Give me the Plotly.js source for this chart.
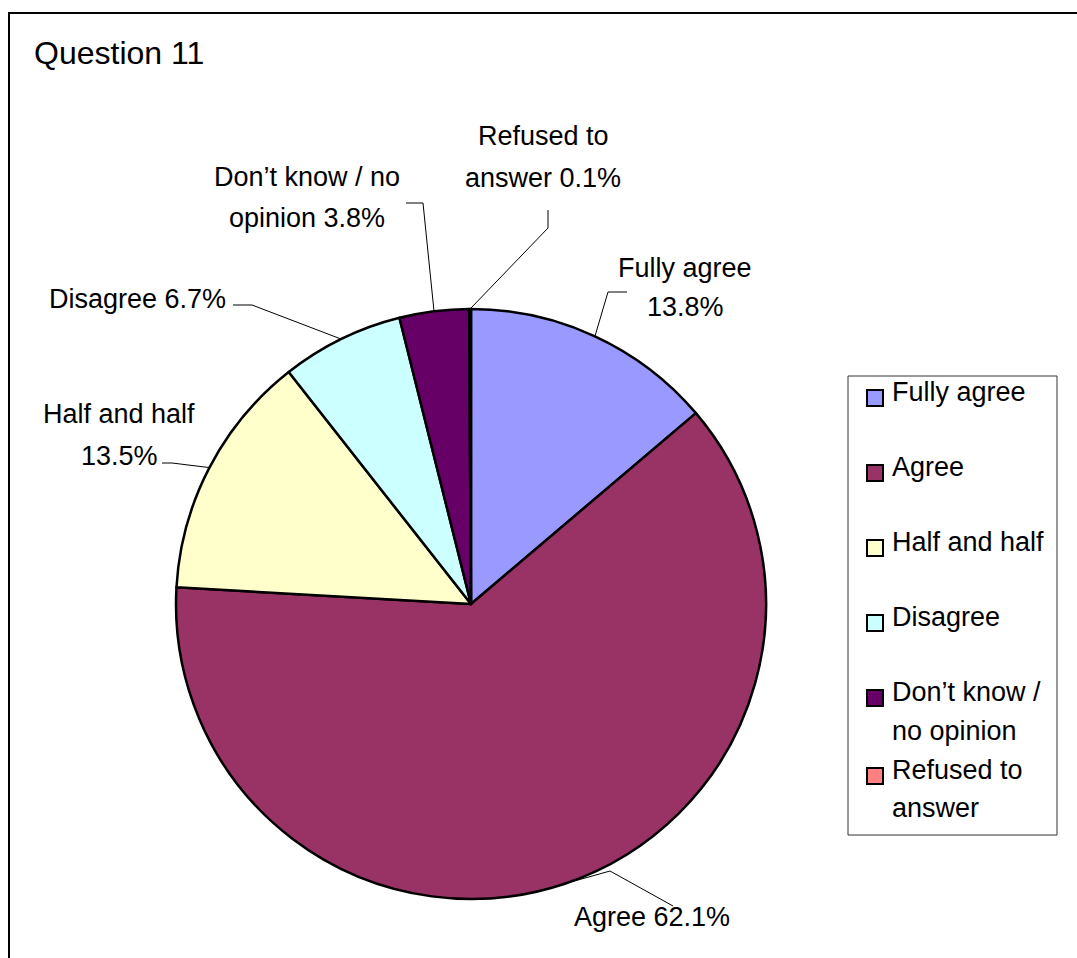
<!DOCTYPE html>
<html><head><meta charset="utf-8">
<script src="https://cdn.plot.ly/plotly-3.0.1.min.js"></script>
<style>html,body{margin:0;padding:0;background:#fff}</style>
</head><body><div id="chart" style="width:1077px;height:958px"></div>
<script>
// ---- data ----
const categories = ["Fully agree", "Agree", "Half and half", "Disagree", "Don’t know / no opinion", "Refused to answer"];
const values = [13.8, 62.1, 13.5, 6.7, 3.8, 0.1];
const colors = ["#9999FF", "#993366", "#FFFFCC", "#CCFFFF", "#660066", "#FF8080"];
const labelLines = [["Fully agree", "{p}"], ["Agree {p}"], ["Half and half", "{p}"], ["Disagree {p}"], ["Don’t know / no", "opinion {p}"], ["Refused to", "answer {p}"]];
const legendLines = [["Fully agree"], ["Agree"], ["Half and half"], ["Disagree"], ["Don’t know /", "no opinion"], ["Refused to", "answer"]];
const titleText = "Question 11";

// ---- layout config (pixels) ----
const W = 1077, H = 958;
const CX = 471, CY = 604, R = 295;
const labelPos = [
  {x: 685, y: [268, 307], lead: [[627, 292], [608, 292]]},
  {x: 652, y: [917], lead: [[673, 906], [610, 871]]},
  {x: 119, y: [414, 456], lead: [[162, 463], [172, 463]]},
  {x: 137, y: [299], lead: [[233, 305], [252, 305]]},
  {x: 307, y: [177, 218], lead: [[406, 203], [423, 203]]},
  {x: 543, y: [136, 178], lead: [[548, 210], [548, 228]]}
];
const legendBox = {x0: 848, y0: 376, x1: 1057, y1: 835};
const legendRows = [[392], [467], [542], [617], [692, 731], [770, 808]];
const FONT = "Liberation Sans, Arial, sans-serif";

const px = x => x / W;
const py = y => 1 - y / H;

const shapes = [];
const annotations = [];

// outer frame
shapes.push({type: 'path', xref: 'paper', yref: 'paper',
  path: `M ${px(9)} ${py(H + 5)} L ${px(9)} ${py(13)} L ${px(W + 5)} ${py(13)}`,
  line: {color: '#000', width: 2}});

// slice labels + leader lines
const total = values.reduce((a, b) => a + b, 0);
let cum = 0;
values.forEach((v, i) => {
  const mid = (cum + v / 2) / total * 2 * Math.PI;
  cum += v;
  const ex = CX + R * Math.sin(mid), ey = CY - R * Math.cos(mid);
  const pct = v.toFixed(1) + "%";
  const lp = labelPos[i];
  labelLines[i].forEach((ln, k) => {
    annotations.push({xref: 'paper', yref: 'paper', x: px(lp.x), y: py(lp.y[k]),
      xanchor: 'center', yanchor: 'middle', showarrow: false,
      text: ln.replace("{p}", pct), font: {family: FONT, size: 27, color: '#000'}});
  });
  const [s, e] = lp.lead;
  shapes.push({type: 'path', xref: 'paper', yref: 'paper',
    path: `M ${px(s[0])} ${py(s[1])} L ${px(e[0])} ${py(e[1])} L ${px(ex)} ${py(ey)}`,
    line: {color: '#000', width: 1}});
});

// manual legend
shapes.push({type: 'rect', xref: 'paper', yref: 'paper',
  x0: px(legendBox.x0), x1: px(legendBox.x1), y0: py(legendBox.y1), y1: py(legendBox.y0),
  line: {color: '#333', width: 1}, fillcolor: 'rgba(0,0,0,0)'});
legendLines.forEach((lines, i) => {
  const rows = legendRows[i];
  shapes.push({type: 'rect', xref: 'paper', yref: 'paper',
    x0: px(867), x1: px(883), y0: py(rows[0] + 14), y1: py(rows[0] - 2),
    line: {color: '#000', width: 2}, fillcolor: colors[i]});
  lines.forEach((ln, k) => {
    annotations.push({xref: 'paper', yref: 'paper', x: px(890), y: py(rows[k]),
      xanchor: 'left', yanchor: 'middle', showarrow: false,
      text: ln, font: {family: FONT, size: 27, color: '#000'}});
  });
});

const trace = {
  type: 'pie', labels: categories, values: values, sort: false,
  direction: 'clockwise', rotation: 0,
  marker: {colors: colors, line: {color: '#000', width: 2.5}},
  textinfo: 'none', hoverinfo: 'label+percent',
  domain: {x: [px(CX - R), px(CX + R)], y: [py(CY + R), py(CY - R)]}
};

const layout = {
  width: W, height: H, margin: {l: 0, r: 0, t: 0, b: 0},
  paper_bgcolor: '#fff', plot_bgcolor: '#fff', showlegend: false,
  title: {text: titleText, x: px(34), xanchor: 'left', xref: 'paper',
    y: py(53), yanchor: 'middle', yref: 'container',
    font: {family: FONT, size: 32, color: '#000'}},
  shapes: shapes, annotations: annotations
};

Plotly.newPlot('chart', [trace], layout, {displayModeBar: false, staticPlot: true});
</script></body></html>
